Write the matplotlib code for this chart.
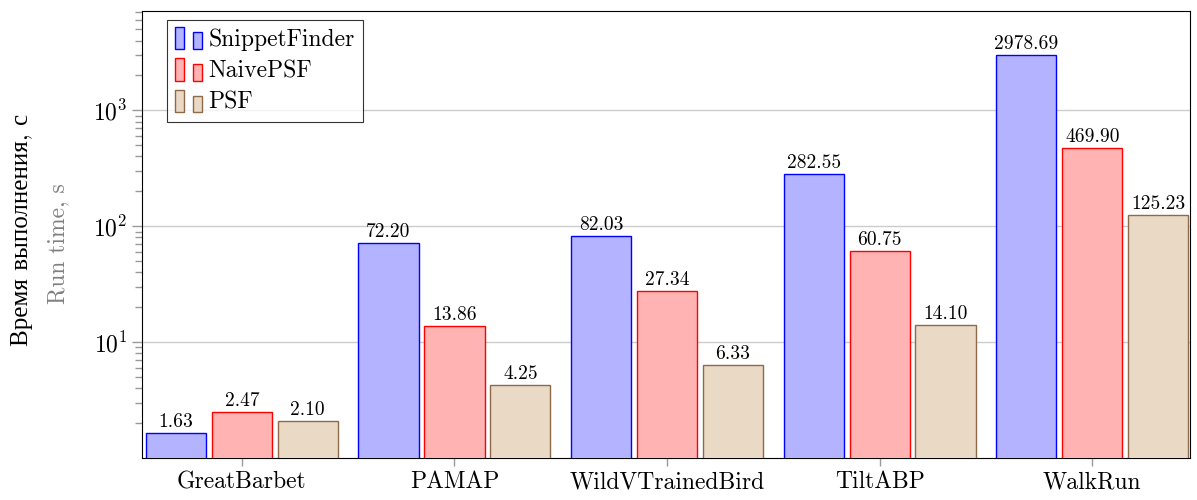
import numpy as np
import matplotlib
matplotlib.use("Agg")
import matplotlib.pyplot as plt
from matplotlib.patches import Rectangle
from matplotlib.legend_handler import HandlerBase
from matplotlib.ticker import LogLocator, NullFormatter

plt.rcParams['font.family'] = ['cmr10', 'Liberation Serif']
plt.rcParams['mathtext.fontset'] = 'cm'
plt.rcParams['axes.formatter.use_mathtext'] = True
plt.rcParams['axes.unicode_minus'] = False

datasets = ["GreatBarbet", "PAMAP", "WildVTrainedBird", "TiltABP", "WalkRun"]
snippet_finder = [1.63, 72.20, 82.03, 282.55, 2978.69]
naive_psf = [2.47, 13.86, 27.34, 60.75, 469.90]
psf = [2.10, 4.25, 6.33, 14.10, 125.23]

series = [
    ("SnippetFinder", snippet_finder, "#b3b3ff", "#0000ff"),
    ("NaivePSF", naive_psf, "#ffb3b3", "#ff0000"),
    ("PSF", psf, "#ead9c5", "#8c6a4a"),
]


class TwoBars(HandlerBase):
    # pgfplots-style ybar legend: two small bars
    def create_artists(self, legend, orig_handle, xdescent, ydescent,
                       width, height, fontsize, trans):
        fc = orig_handle.get_facecolor()
        ec = orig_handle.get_edgecolor()
        w = width * 0.32
        r1 = Rectangle((-xdescent, -ydescent - height * 0.2), w, height * 1.35,
                       facecolor=fc, edgecolor=ec, lw=1, transform=trans)
        r2 = Rectangle((-xdescent + width * 0.62, -ydescent - height * 0.2), w, height * 1.0,
                       facecolor=fc, edgecolor=ec, lw=1, transform=trans)
        return [r1, r2]


fig = plt.figure(figsize=(11.97, 5.0), dpi=100)
ax = fig.add_axes([0.1186, 0.084, 0.8756, 0.894])

x = np.arange(len(datasets))
slot = 0.31
width = 0.283
handles = []
for i, (name, vals, fc, ec) in enumerate(series):
    bars = ax.bar(x + (i - 1) * slot, vals, width, facecolor=fc, edgecolor=ec,
                  linewidth=1, label=name, zorder=3)
    ax.bar_label(bars, labels=["%.2f" % v for v in vals], padding=1.5, fontsize=14)
    handles.append(bars.patches[0])

ax.set_yscale('log')
ax.set_ylim(1, 7200)
ax.set_xlim(-0.47, 4.46)
ax.set_xticks(x)
ax.set_xticklabels(datasets, fontsize=17)
ax.set_yticks([10, 100, 1000])
ax.yaxis.set_minor_locator(LogLocator(base=10, subs=np.arange(2, 10), numticks=20))
ax.yaxis.set_minor_formatter(NullFormatter())
ax.tick_params(axis='y', which='major', labelsize=17, length=7, width=1, color='#999999')
ax.tick_params(axis='y', which='minor', length=5, width=1, color='#999999')
ax.tick_params(axis='x', length=6, width=1, color='#999999')
ax.grid(axis='y', which='major', color='#cccccc', lw=1, zorder=0)
for s in ax.spines.values():
    s.set_linewidth(0.8)

fig.text(0.018, 0.54, "Время выполнения, с", rotation=90, ha='center', va='center', fontsize=18)
fig.text(0.049, 0.512, "Run time, s", rotation=90, ha='center', va='center', fontsize=17, color='#808080')

leg = ax.legend(handles, [s[0] for s in series], loc='upper left',
                handler_map={h: TwoBars() for h in handles},
                fontsize=17, frameon=True, fancybox=False, edgecolor='black',
                handlelength=1.2, handletextpad=0.2, borderpad=0.35,
                labelspacing=0.4, borderaxespad=0, bbox_to_anchor=(0.024, 0.98))
leg.get_frame().set_linewidth(0.8)

fig.savefig("out.png", dpi=100)
